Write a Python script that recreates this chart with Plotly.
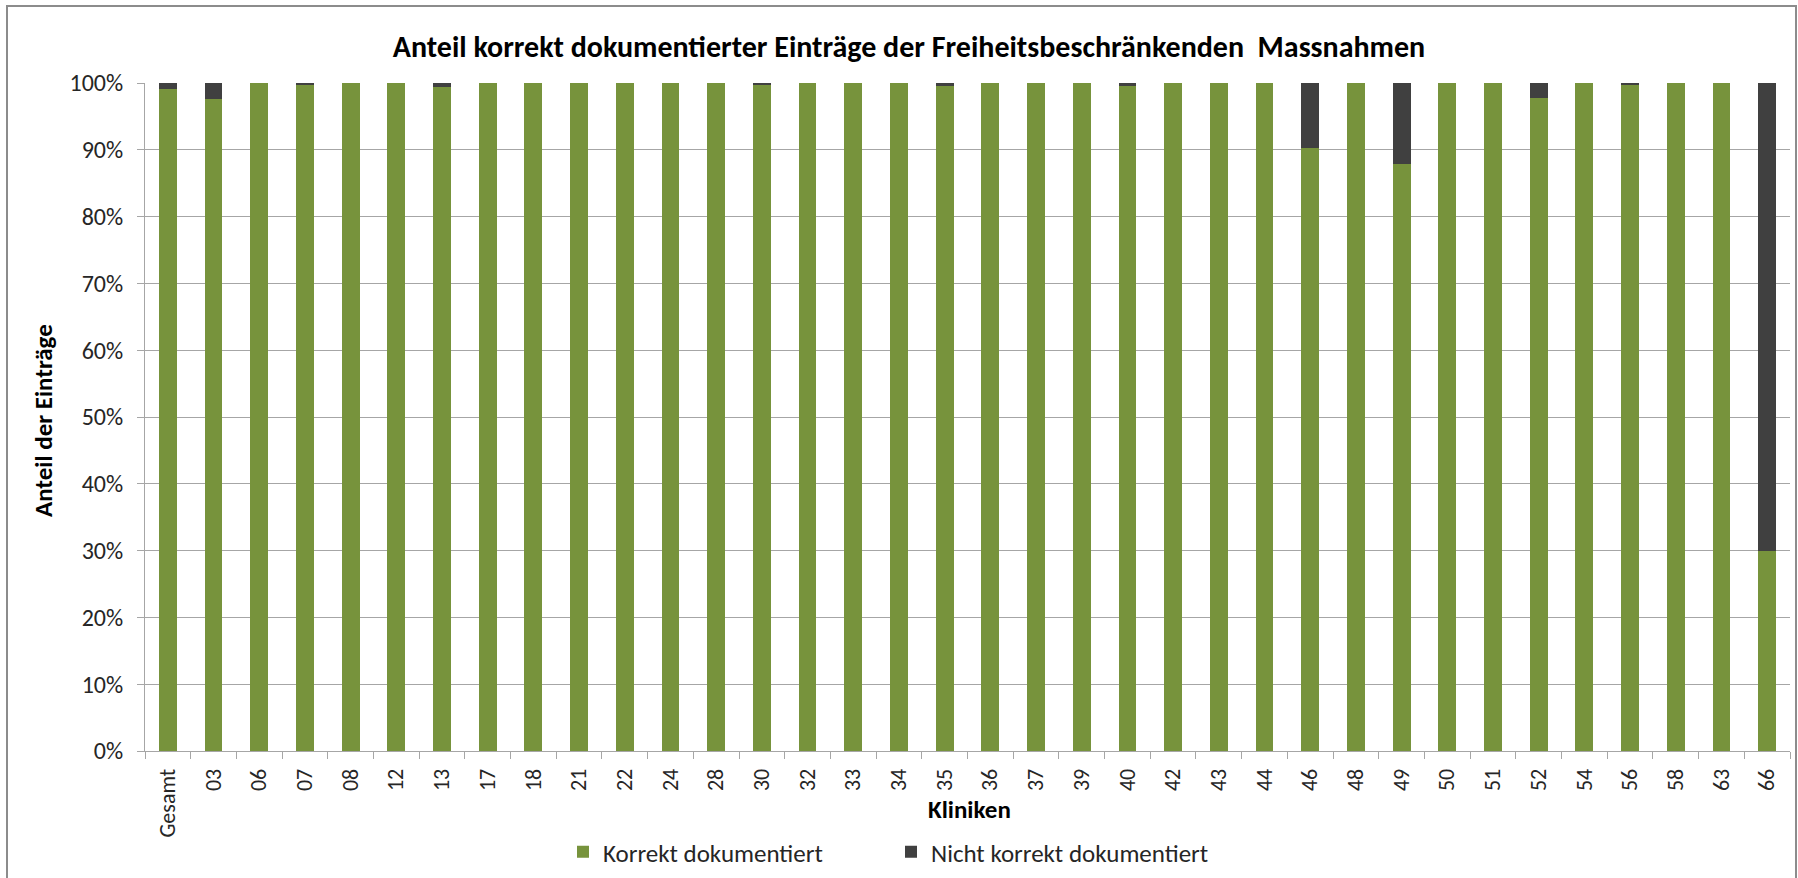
import plotly.graph_objects as go

categories = ["Gesamt", "03", "06", "07", "08", "12", "13", "17", "18", "21", "22", "24",
              "28", "30", "32", "33", "34", "35", "36", "37", "39", "40", "42", "43",
              "44", "46", "48", "49", "50", "51", "52", "54", "56", "58", "63", "66"]
korrekt = [99.1, 97.6, 100, 99.65, 100, 100, 99.4, 100, 100, 100, 100, 100,
           100, 99.65, 100, 100, 100, 99.6, 100, 100, 100, 99.5, 100, 100,
           100, 90.3, 100, 87.9, 100, 100, 97.8, 100, 99.75, 100, 100, 30.0]
nicht_korrekt = [0.9, 2.4, 0, 0.35, 0, 0, 0.6, 0, 0, 0, 0, 0,
                 0, 0.35, 0, 0, 0, 0.4, 0, 0, 0, 0.5, 0, 0,
                 0, 9.7, 0, 12.1, 0, 0, 2.2, 0, 0.25, 0, 0, 70.0]

title_text = "Anteil korrekt dokumentierter Einträge der Freiheitsbeschränkenden  Massnahmen"
FONT = "Carlito, Lato, sans-serif"
GREEN = "#77933C"
DARK = "#404040"
TXT = "#262626"

W, H = 1798, 878
L, R, T, B = 145, 8, 83, 127
pw, ph = W - L - R, H - T - B

def px(x):
    return (x - L) / pw

def py(y):
    return (H - B - y) / ph

fig = go.Figure()
fig.add_trace(go.Bar(x=categories, y=korrekt, name="Korrekt dokumentiert",
                     marker=dict(color=GREEN, line=dict(width=0))))
fig.add_trace(go.Bar(x=categories, y=nicht_korrekt, name="Nicht korrekt dokumentiert",
                     marker=dict(color=DARK, line=dict(width=0))))

fig.update_layout(
    width=W, height=H,
    barmode="stack", bargap=0.61,
    margin=dict(l=L, r=R, t=T, b=B, autoexpand=False),
    paper_bgcolor="white", plot_bgcolor="white",
    font=dict(family=FONT, color=TXT, size=22),
    title=dict(text="<b>" + title_text + "</b>", x=909 / W, xanchor="center",
               y=1 - 46 / H, yanchor="middle", yref="container",
               font=dict(family=FONT, size=30, color="black")),
    showlegend=True,
    legend=dict(orientation="h", x=px(563), xanchor="left", y=py(852), yanchor="middle",
                font=dict(family=FONT, size=25, color=TXT), entrywidth=283,
                entrywidthmode="pixels", itemwidth=30, traceorder="normal",
                bgcolor="rgba(0,0,0,0)"),
    xaxis=dict(type="category", showgrid=False, showline=True, linecolor="#a6a6a6",
               linewidth=1, ticks="outside", tickson="boundaries", ticklen=7,
               tickcolor="#a6a6a6", tickangle=-90, ticklabelstandoff=8,
               tickfont=dict(family=FONT, size=22, color=TXT)),
    yaxis=dict(range=[0, 100], dtick=10, ticksuffix="%", showgrid=True,
               gridcolor="#a6a6a6", gridwidth=1, showline=True, linecolor="#a6a6a6",
               linewidth=1, ticks="outside", ticklen=7, tickcolor="#a6a6a6",
               ticklabelstandoff=9,
               zeroline=False, tickfont=dict(family=FONT, size=24, color=TXT)),
    annotations=[
        dict(text="<b>Anteil der Einträge</b>", xref="paper", yref="paper",
             x=px(44), y=py(421), textangle=-90, showarrow=False,
             xanchor="center", yanchor="middle",
             font=dict(family=FONT, size=25, color="black")),
        dict(text="<b>Kliniken</b>", xref="paper", yref="paper",
             x=px(969), y=py(809), showarrow=False,
             xanchor="center", yanchor="middle",
             font=dict(family=FONT, size=25, color="black")),
    ],
    shapes=[
        dict(type="rect", xref="paper", yref="paper",
             x0=px(7), x1=px(1796), y0=py(890), y1=py(6),
             line=dict(color="#8c8c8c", width=2), fillcolor="rgba(0,0,0,0)",
             layer="below"),
    ],
)

fig.write_html("out.html", config={"displayModeBar": False},
               post_script="document.body.style.margin='0px';")
